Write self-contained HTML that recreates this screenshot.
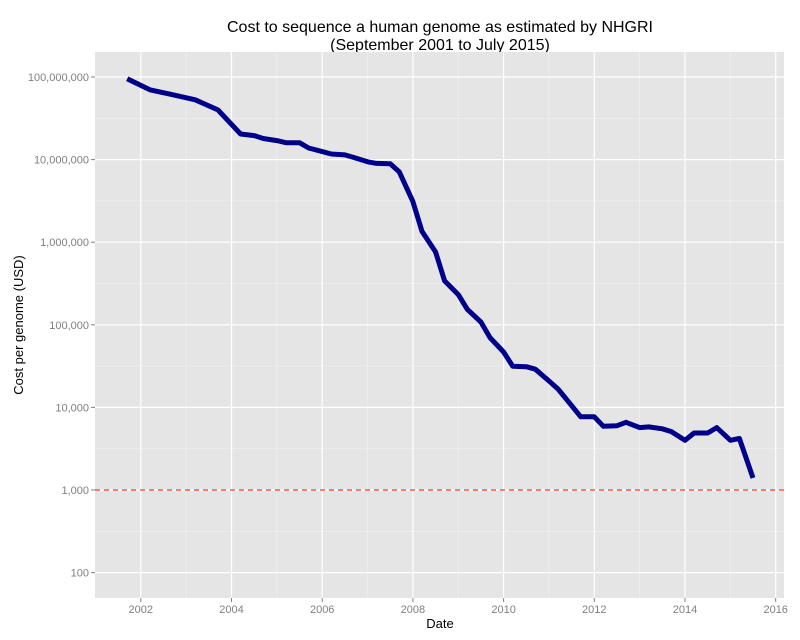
<!DOCTYPE html>
<html><head><meta charset="utf-8"><style>
body{margin:0;background:#fff;}
svg{display:block;font-family:"Liberation Sans",sans-serif;}
</style></head><body>
<svg id="chart" width="800" height="640" xmlns="http://www.w3.org/2000/svg">
<text x="440" y="32" font-size="16" text-anchor="middle" fill="#000">Cost to sequence a human genome as estimated by NHGRI</text>
<text x="440" y="50" font-size="16" text-anchor="middle" fill="#000">(September 2001 to July 2015)</text>
<rect x="95" y="52" width="689" height="546" fill="#e5e5e5"/>
<g id="grid"></g>
<g id="axes"></g>
<g id="marks"></g>
<text x="440" y="628" font-size="13" text-anchor="middle">Date</text>
<text x="23" y="325" font-size="13" text-anchor="middle" transform="rotate(-90 23 325)">Cost per genome (USD)</text>
</svg>
<script>
const dates=[2001.7,2002.2,2002.7,2003.2,2003.7,2004.2,2004.5,2004.7,2005.0,2005.2,2005.5,2005.7,2006.0,2006.2,2006.5,2006.7,2007.0,2007.2,2007.5,2007.7,2008.0,2008.2,2008.5,2008.7,2009.0,2009.2,2009.5,2009.7,2010.0,2010.2,2010.5,2010.7,2011.0,2011.2,2011.5,2011.7,2012.0,2012.2,2012.5,2012.7,2013.0,2013.2,2013.5,2013.7,2014.0,2014.2,2014.5,2014.7,2015.0,2015.2,2015.5];
const costs=[95000000,70000000,61000000,53000000,40000000,20400000,19500000,18000000,17000000,16000000,16000000,13800000,12500000,11700000,11400000,10600000,9400000,9000000,8900000,7100000,3100000,1350000,760000,340000,232000,154000,108000,70000,46800,31500,31100,29000,20900,16700,10500,7700,7700,5900,6000,6600,5700,5800,5500,5100,4000,4900,4900,5700,4000,4200,1400];
const xTicks=[2002,2004,2006,2008,2010,2012,2014,2016];
const yTicks=[100,1000,10000,100000,1000000,10000000,100000000];
const refLine=[1000];
const NS="http://www.w3.org/2000/svg";
const x=v=>140.8+(v-2002)*45.35;
const y=v=>77+(8-Math.log10(v))*82.6;
function el(tag,attrs,parent){const e=document.createElementNS(NS,tag);for(const k in attrs)e.setAttribute(k,attrs[k]);document.getElementById(parent).appendChild(e);return e;}
// minor grid
for(let i=0;i<xTicks.length-1;i++){const m=(xTicks[i]+xTicks[i+1])/2;
 const g=el('line',{x1:x(m),x2:x(m),y1:52,y2:598,stroke:'#f2f2f2','stroke-width':0.6},'grid');
 
 }
for(let i=0;i<yTicks.length;i++){const m=yTicks[i]*Math.sqrt(10);const yy=y(m);if(yy<52)continue;
 const g=el('line',{x1:95,x2:784,y1:yy,y2:yy,stroke:'#f2f2f2','stroke-width':0.6},'grid');
 
 }
{const yy=y(yTicks[0]/Math.sqrt(10));if(yy<598){const g=el('line',{x1:95,x2:784,y1:yy,y2:yy,stroke:'#f2f2f2','stroke-width':0.6},'grid');
 
 }}
xTicks.forEach(t=>{
 const g=el('line',{x1:x(t),x2:x(t),y1:52,y2:598,stroke:'#fff','stroke-width':1.2},'grid');
 
 
 const tk=el('line',{x1:x(t),x2:x(t),y1:598,y2:602,stroke:'#7f7f7f'},'axes');
 
 
 const tx=el('text',{x:x(t),y:613,'font-size':11,'text-anchor':'middle',fill:'#7f7f7f'},'axes');
 tx.textContent=t;
 
 
});
yTicks.forEach(t=>{
 const g=el('line',{x1:95,x2:784,y1:y(t),y2:y(t),stroke:'#fff','stroke-width':1.2},'grid');
 
 
 const tk=el('line',{x1:91,x2:95,y1:y(t),y2:y(t),stroke:'#7f7f7f'},'axes');
 
 
 const tx=el('text',{x:89,y:y(t)+4,'font-size':11,'text-anchor':'end',fill:'#7f7f7f'},'axes');
 tx.textContent=t.toLocaleString('en-US');
 
 
});
refLine.forEach(v=>{
 const l=el('line',{x1:95,x2:784,y1:y(v),y2:y(v),stroke:'#ff5555','stroke-width':1.5,'stroke-dasharray':'5,4'},'marks');
 
 
});
const pts=dates.map((d,i)=>x(d).toFixed(1)+','+y(costs[i]).toFixed(1)).join(' ');
const p=el('polyline',{points:pts,fill:'none',stroke:'#00008b','stroke-width':5,'stroke-linejoin':'round'},'marks');


</script>
</body></html>
